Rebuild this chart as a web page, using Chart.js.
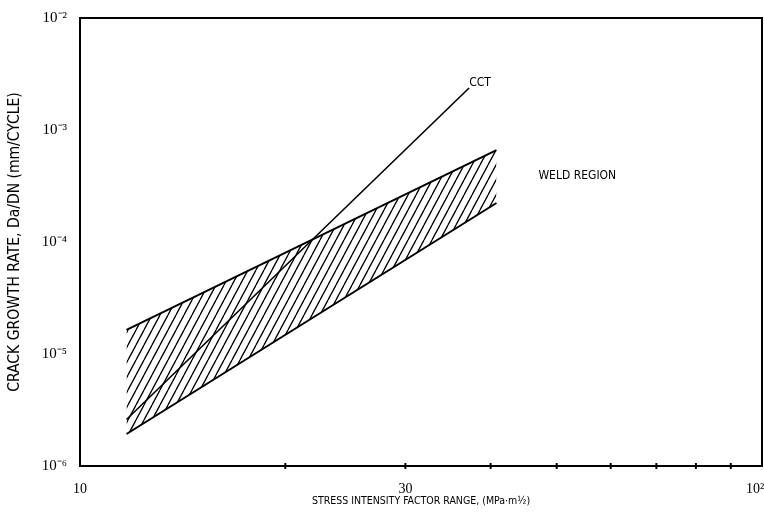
<!DOCTYPE html>
<html><head><meta charset="utf-8">
<script src="https://cdn.jsdelivr.net/npm/chart.js@4"></script>
<style>html,body{margin:0;padding:0;background:#fff}</style>
</head><body>
<canvas id="c" width="764" height="512"></canvas>
<script>
// ---- data ----
const bandX = [11.7, 40.8];
const bandUpper = [1.64e-5, 6.6e-4];
const bandLower = [1.93e-6, 2.23e-4];
const cctX = [11.7, 37.2];
const cctY = [2.6e-6, 2.37e-3];

const xTickValues = [10, 20, 30, 40, 50, 60, 70, 80, 90, 100];
const xTickLabels = ['10', '', '30', '', '', '', '', '', '', '10\u00B2\u2002\u2002'];
const yTickValues = [1e-6, 1e-5, 1e-4, 1e-3, 1e-2];
const yTickLabels = ['10\u207B\u2076', '10\u207B\u2075', '10\u207B\u2074', '10\u207B\u00B3', '10\u207B\u00B2'];

const annotations = [
  { text: 'CCT', x: 38.6, y: 2.63e-3 },
  { text: 'WELD REGION', x: 53.6, y: 3.88e-4 }
];

const xTitle = 'STRESS INTENSITY FACTOR RANGE, (MPa\u00B7m\u00BD)';
const yTitle = 'CRACK GROWTH RATE, Da/DN (mm/CYCLE)';

// ---- hatch pattern ----
function makeHatch() {
  const w = 8, h = 15;
  const c = document.createElement('canvas');
  c.width = w; c.height = h;
  const g = c.getContext('2d');
  g.strokeStyle = '#000';
  g.lineWidth = 1.3;
  g.beginPath();
  for (const dx of [-w, 0, w]) { g.moveTo(dx, h); g.lineTo(dx + w, 0); }
  g.stroke();
  return c.getContext('2d').createPattern(c, 'repeat');
}
const hatch = makeHatch();

const pts = (xs, ys) => xs.map((x, i) => ({ x, y: ys[i] }));

const framePlugin = {
  id: 'frame',
  afterDatasetsDraw(chart) {
    const { ctx, chartArea: a, scales: { x, y } } = chart;
    ctx.save();
    ctx.strokeStyle = '#000';
    ctx.lineWidth = 2;
    ctx.strokeRect(a.left, a.top, a.right - a.left, a.bottom - a.top);
    x.ticks.forEach(t => {
      if (t.value === 10 || t.value === 100) return;
      const px = x.getPixelForValue(t.value);
      ctx.beginPath();
      ctx.moveTo(px, a.bottom - 3);
      ctx.lineTo(px, a.bottom + 3);
      ctx.stroke();
    });
    ctx.font = '12px "DejaVu Sans Condensed", "DejaVu Sans"';
    ctx.fillStyle = '#000';
    ctx.textAlign = 'center';
    ctx.textBaseline = 'middle';
    annotations.forEach(n => ctx.fillText(n.text, x.getPixelForValue(n.x), y.getPixelForValue(n.y)));
    ctx.restore();
  }
};

new Chart(document.getElementById('c'), {
  type: 'line',
  data: {
    datasets: [
      { data: pts(bandX, bandUpper), borderColor: '#000', borderWidth: 2, pointRadius: 0, fill: '+1', backgroundColor: hatch },
      { data: pts(bandX, bandLower), borderColor: '#000', borderWidth: 2, pointRadius: 0, fill: false },
      { data: pts(cctX, cctY), borderColor: '#000', borderWidth: 1.6, pointRadius: 0, fill: false }
    ]
  },
  options: {
    responsive: false,
    animation: false,
    devicePixelRatio: 1,
    layout: { padding: { top: 18, right: 2, left: 0, bottom: 0 } },
    plugins: { legend: { display: false }, tooltip: { enabled: false } },
    scales: {
      x: {
        type: 'logarithmic', min: 10, max: 100,
        afterBuildTicks: s => { s.ticks = xTickValues.map(v => ({ value: v })); },
        afterFit: s => { s.height = 46; s.paddingLeft = 0; s.paddingRight = 0; },
        grid: { display: false },
        border: { display: true, color: '#000', width: 2 },
        ticks: {
          autoSkip: false, maxRotation: 0, padding: 7, color: '#000',
          font: { family: '"Liberation Serif", serif', size: 14 },
          callback: (v, i) => xTickLabels[i]
        },
        title: {
          display: true, text: xTitle, color: '#000',
          font: { family: '"DejaVu Sans Condensed", "DejaVu Sans"', size: 10.5 },
          padding: { top: 0, bottom: 4 }
        }
      },
      y: {
        type: 'logarithmic', min: 1e-6, max: 1e-2,
        afterBuildTicks: s => { s.ticks = yTickValues.map(v => ({ value: v })); },
        afterFit: s => { s.width = 80; s.paddingTop = 0; s.paddingBottom = 0; },
        grid: { display: false },
        border: { display: true, color: '#000', width: 2 },
        ticks: {
          autoSkip: false, padding: 5, color: '#000',
          font: { family: '"Liberation Serif", serif', size: 15 },
          callback: (v, i) => yTickLabels[i]
        },
        title: {
          display: true, text: yTitle, color: '#000',
          font: { family: '"DejaVu Sans Condensed", "DejaVu Sans"', size: 15.5 },
          padding: { top: 6, bottom: 0 }
        }
      }
    }
  },
  plugins: [framePlugin]
});
</script>
</body></html>
